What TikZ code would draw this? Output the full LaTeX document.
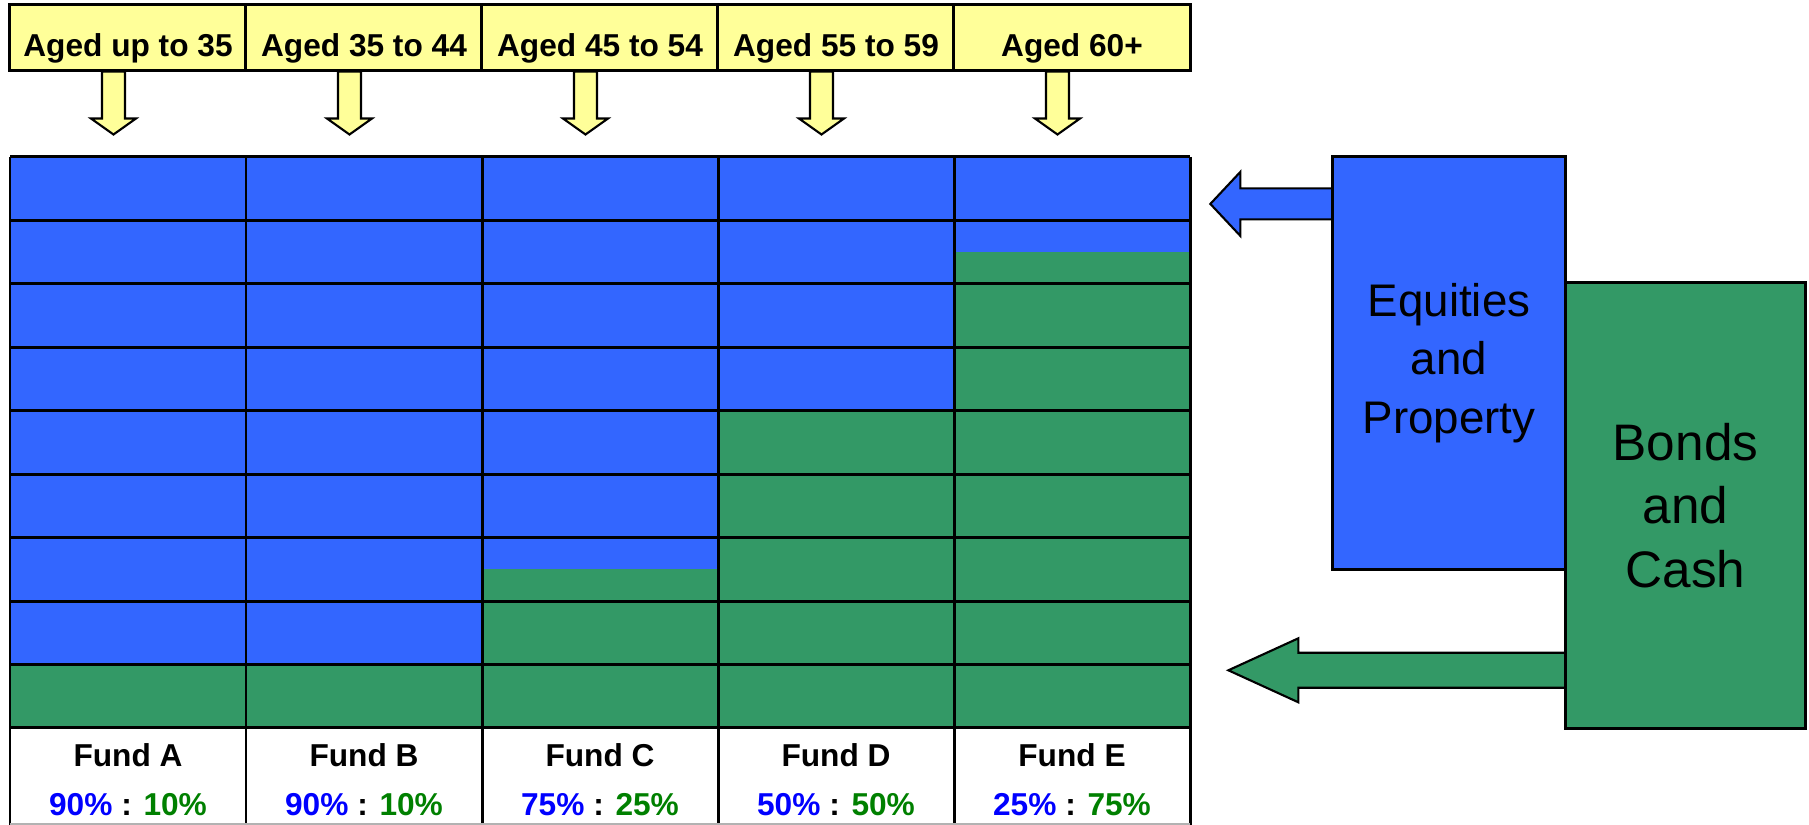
\documentclass[tikz,border=0pt]{standalone}
\usepackage{fontspec}
\setmainfont{Liberation Sans}
\usetikzlibrary{backgrounds}

\definecolor{eqblue}{HTML}{3366FF}
\definecolor{bdgreen}{HTML}{339966}
\definecolor{agebg}{HTML}{FFFF99}
\definecolor{pctblue}{HTML}{0000FF}
\definecolor{pctgreen}{HTML}{008000}

\tikzset{
  agecell/.style={draw=black, line width=0.85pt, fill=agebg, minimum width=2.36cm, minimum height=0.65cm, inner sep=0pt},
  agetext/.style={anchor=base, inner sep=0pt, font=\fontsize{9}{11}\selectfont\bfseries},
  fundtext/.style={anchor=base, inner sep=0pt, font=\fontsize{9}{11}\selectfont\bfseries},
  gridline/.style={line width=0.85pt},
  downarrow/.style={draw=black, line width=0.6pt, fill=agebg},
  sidearrow/.style={draw=black, line width=0.6pt},
  assetbox/.style={draw=black, line width=0.85pt, align=center, inner sep=0pt},
}

\begin{document}
\begin{tikzpicture}[x=0.01cm, y=-0.01cm]
\useasboundingbox (0,0) rectangle (1809,825);

% fund columns
\foreach \col/\age/\eq/\bd/\nb [count=\i from 0] in {A/Aged up to 35/90/10/8, B/Aged 35 to 44/90/10/8, C/Aged 45 to 54/75/25/6.5, D/Aged 55 to 59/50/50/4, E/Aged 60+/25/75/1.5} {
  \fill[eqblue] (10+236*\i,157) rectangle (246+236*\i,157+63.44*\nb);
  \fill[bdgreen] (10+236*\i,157+63.44*\nb) rectangle (246+236*\i,728);
  \node[agecell] (age-\col) at (128+236*\i,37.5) {};
  \node[agetext] (agetxt-\col) at (128+236*\i,57) {\age};
  \node[fundtext] (fund-\col) at (128+236*\i,767) {Fund \col};
  \node[fundtext] (mix-\col) at (128+236*\i,815) {\textcolor{pctblue}{\eq\%} : \textcolor{pctgreen}{\bd\%}};
  \draw[downarrow] ([xshift=-0.145cm]age-\col.south) ++(-11.5,0) -- ++(0,47) -- ++(-11,0) -- ++(22.5,16) -- ++(22.5,-16) -- ++(-11,0) -- ++(0,-47) -- cycle;
}

% grid
\foreach \j in {0,...,9}
  \draw[gridline] (10,157+63.44*\j) -- (1190,157+63.44*\j);
\foreach \i in {0,...,5}
  \draw[gridline] (10+236*\i,157) -- (10+236*\i,825);
\draw[gray!60, line width=0.5pt] (10,824) -- (1190,824);

% asset classes
\node[assetbox, fill=eqblue, minimum width=2.33cm, minimum height=4.12cm, font=\fontsize{13}{16.7}\selectfont] (equities) at (1449,363) {Equities\\and\\Property};
\node[assetbox, fill=bdgreen, minimum width=2.40cm, minimum height=4.45cm, font=\fontsize{14.6}{18.1}\selectfont] (bonds) at (1685.5,505.4) {Bonds\\and\\Cash};

\coordinate (eq-out) at ([yshift=-0.485cm]equities.north west);
\coordinate (bd-out) at ([yshift=-3.888cm]bonds.north west);
\begin{scope}[on background layer]
\draw[sidearrow, fill=eqblue] (eq-out) ++(0,-15.5) -- ++(-90.6,0) -- ++(0,-16.5) -- ++(-30,32) -- ++(30,32) -- ++(0,-16.5) -- ++(90.6,0);
\draw[sidearrow, fill=bdgreen] (bd-out) ++(0,-17.5) -- ++(-265.6,0) -- ++(0,-14.5) -- ++(-70,32) -- ++(70,32) -- ++(0,-14.5) -- ++(265.6,0);
\end{scope}
\end{tikzpicture}
\end{document}
